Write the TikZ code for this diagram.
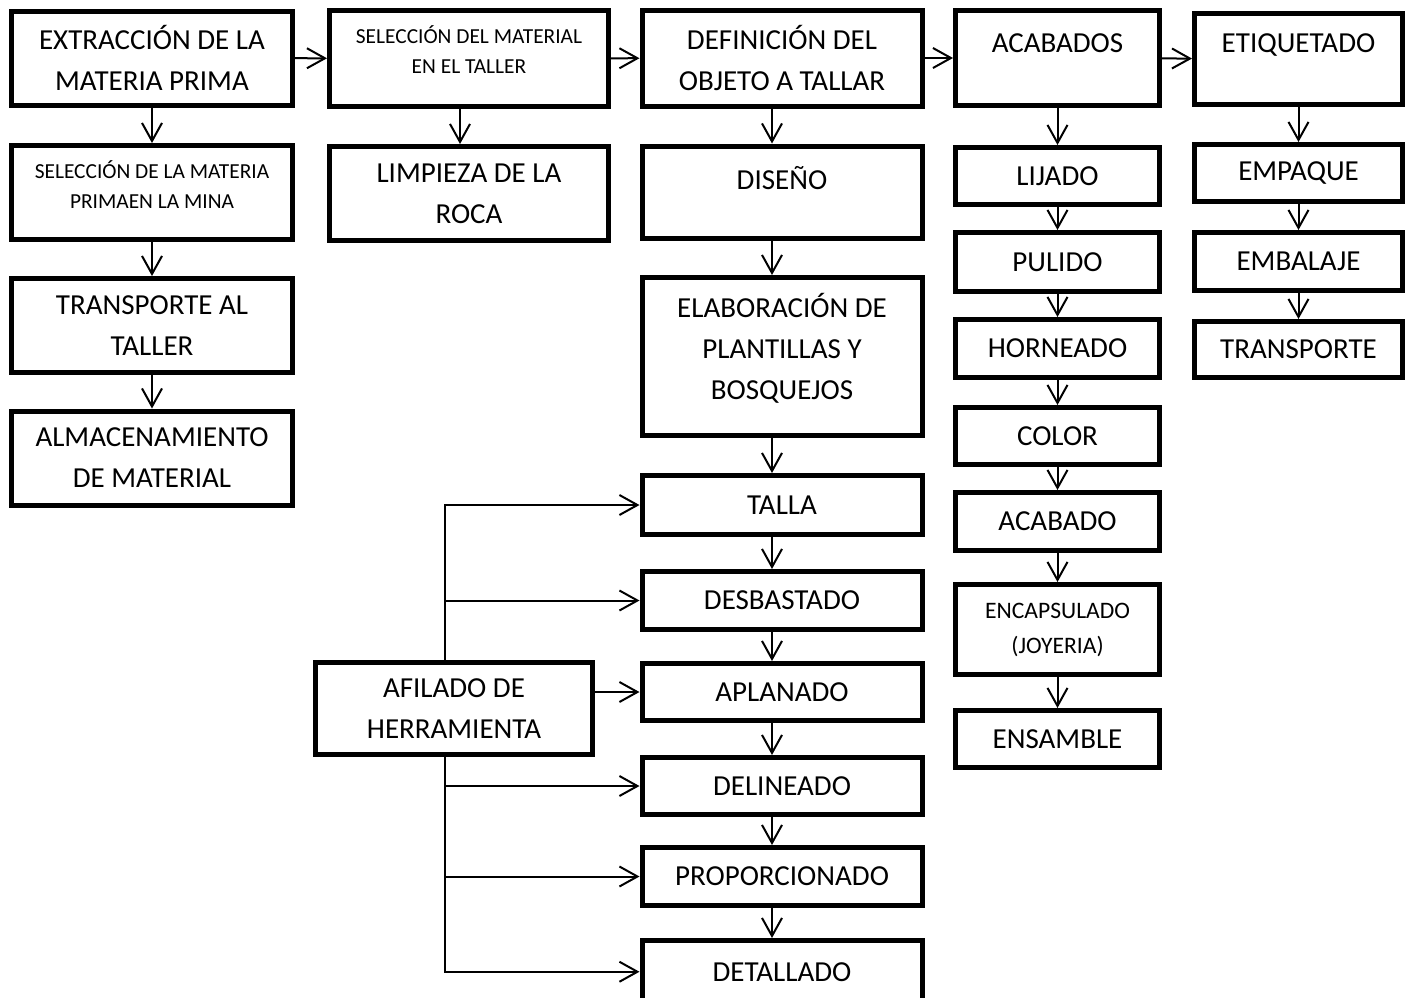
\documentclass[tikz,border=0pt]{standalone}
\usepackage{fontspec}
\setmainfont{Carlito}
\usetikzlibrary{arrows.meta}

\newcommand{\bigtxt}{\fontsize{14.5pt}{20.5pt}\selectfont}
\newcommand{\smalltxt}{\fontsize{10.7pt}{15pt}\selectfont}
\newcommand{\midtxt}{\fontsize{11.8pt}{17.5pt}\selectfont}

\begin{document}
\begin{tikzpicture}[
                x=0.5pt, y=-0.5pt,
                line width=1pt,
                >={Straight Barb[length=9pt,width=10pt]},
                box/.style={draw,line width=2.5pt,align=center,text=black,inner sep=2pt,font=\bigtxt},
                colA/.style={box,minimum width=140.5pt},
                colB/.style={box,minimum width=139.5pt},
                colC/.style={box,minimum width=140pt},
                colD/.style={box,minimum width=102pt},
                colE/.style={box,minimum width=104pt},
                raised/.style={text height=10pt,text depth=#1}] %

\useasboundingbox (0,0) rectangle (1412,997);
\clip (0,0) rectangle (1412,997);

\coordinate (C2) at (460,0);
\coordinate (C3) at (772,0);
\coordinate (BR) at (445,0);

                    % 1
                    \node[colA,minimum height=47pt] (EXT) at (152,58) {EXTRACCIÓN DE LA\\MATERIA PRIMA};
                    \node[colA,minimum height=47pt,font=\smalltxt,text height=25pt,text depth=8.6pt] (SELMP) at (152,192.5) {SELECCIÓN DE LA MATERIA\\PRIMAEN LA MINA};
                    \node[colA,minimum height=47pt] (TRANSP) at (152,325.5) {TRANSPORTE AL\\TALLER};
                    \node[colA,minimum height=47pt] (ALM) at (152,458) {ALMACENAMIENTO\\DE MATERIAL};
                    \path [->] (EXT) edge (SELMP) (SELMP) edge (TRANSP) (TRANSP) edge (ALM);

                    % 2
                    \node[colB,minimum height=48pt,font=\smalltxt,text height=25pt,text depth=9.6pt] (SELM) at (469,58.5) {SELECCIÓN DEL MATERIAL\\EN EL TALLER};
                    \node[colB,minimum height=47pt] (LIMP) at (469,193.5) {LIMPIEZA DE LA\\ROCA};
                    \path [->] (SELM.south -| C2) edge (LIMP.north -| C2);

                    % 3
                    \node[colC,minimum height=48pt] (DEF) at (782,58) {DEFINICIÓN DEL\\OBJETO A TALLAR};
                    \node[colC,minimum height=46pt,raised=12.2pt] (DIS) at (782,192) {DISEÑO};
                    \node[colC,minimum height=79pt,text height=53pt,text depth=9.7pt] (ELAB) at (782,356.5) {ELABORACIÓN DE\\PLANTILLAS Y\\BOSQUEJOS};
                    \node[colC,minimum height=29.5pt] (TALLA) at (782,505) {TALLA};
                    \node[colC,minimum height=29pt] (DESB) at (782,600.5) {DESBASTADO};
                    \node[colC,minimum height=28.5pt] (APL) at (782,692) {APLANADO};
                    \node[colC,minimum height=28.5pt] (DEL) at (782,786) {DELINEADO};
                    \node[colC,minimum height=29pt] (PROP) at (782,876.5) {PROPORCIONADO};
                    \node[colC,minimum height=31.25pt] (DET) at (782,971.75) {DETALLADO};
                    \path [->] (DEF.south -| C3) edge (DIS.north -| C3)
                               (DIS.south -| C3) edge (ELAB.north -| C3)
                               (ELAB.south -| C3) edge (TALLA.north -| C3)
                               (TALLA.south -| C3) edge (DESB.north -| C3)
                               (DESB.south -| C3) edge (APL.north -| C3)
                               (APL.south -| C3) edge (DEL.north -| C3)
                               (DEL.south -| C3) edge (PROP.north -| C3)
                               (PROP.south -| C3) edge (DET.north -| C3);

                    % 4
                    \node[colD,minimum height=47.5pt,raised=15.7pt] (ACABS) at (1057.5,58) {ACABADOS};
                    \node[colD,minimum height=28.5pt] (LIJ) at (1057.5,176) {LIJADO};
                    \node[colD,minimum height=29.5pt] (PUL) at (1057.5,262) {PULIDO};
                    \node[colD,minimum height=29pt] (HORN) at (1057.5,348.5) {HORNEADO};
                    \node[colD,minimum height=28.5pt] (COLOR) at (1057.5,436) {COLOR};
                    \node[colD,minimum height=29pt] (ACAB) at (1057.5,521.5) {ACABADO};
                    \node[colD,minimum height=45pt,font=\midtxt] (ENCAP) at (1057.5,629.5) {ENCAPSULADO\\(JOYERIA)};
                    \node[colD,minimum height=28.5pt] (ENS) at (1057.5,739) {ENSAMBLE};
                    \path [->] (ACABS) edge (LIJ) (LIJ) edge (PUL) (PUL) edge (HORN) (HORN) edge (COLOR)
                               (COLOR) edge (ACAB) (ACAB) edge (ENCAP) (ENCAP) edge (ENS);

                    % 5
                    \node[colE,minimum height=45.5pt,raised=16.7pt] (ETIQ) at (1298.5,59) {ETIQUETADO};
                    \node[colE,minimum height=28.5pt] (EMPQ) at (1298.5,173) {EMPAQUE};
                    \node[colE,minimum height=29pt] (EMBL) at (1298.5,261.5) {EMBALAJE};
                    \node[colE,minimum height=28pt] (TRANS) at (1298.5,349.5) {TRANSPORTE};
                    \path [->] (ETIQ) edge (EMPQ) (EMPQ) edge (EMBL) (EMBL) edge (TRANS);

                    % top row
                    \path [->] (EXT) edge (SELM) (SELM) edge (DEF) (DEF) edge (ACABS) (ACABS) edge (ETIQ);

                    % afilado
                    \node[box,minimum width=138.5pt,minimum height=46pt] (AF) at (454,708.5) {AFILADO DE\\HERRAMIENTA};
                    \draw [->] (AF.north -| BR) |- (TALLA);
                    \path [->] (DESB -| BR) edge (DESB);
                    \path [->] (APL -| AF.east) edge (APL);
                    \draw [->] (AF.south -| BR) |- (DET);
                    \path [->] (DEL -| BR) edge (DEL) (PROP -| BR) edge (PROP);


%%%%%%%%%%%%%%%%%%%%%%%%%%%%%%%%%%%%%%%%%%%%%%%%%%%%%%%%%%%%%%%%%%%%%%%%%%%%%%%%%%%%


\end{tikzpicture}
\end{document}
